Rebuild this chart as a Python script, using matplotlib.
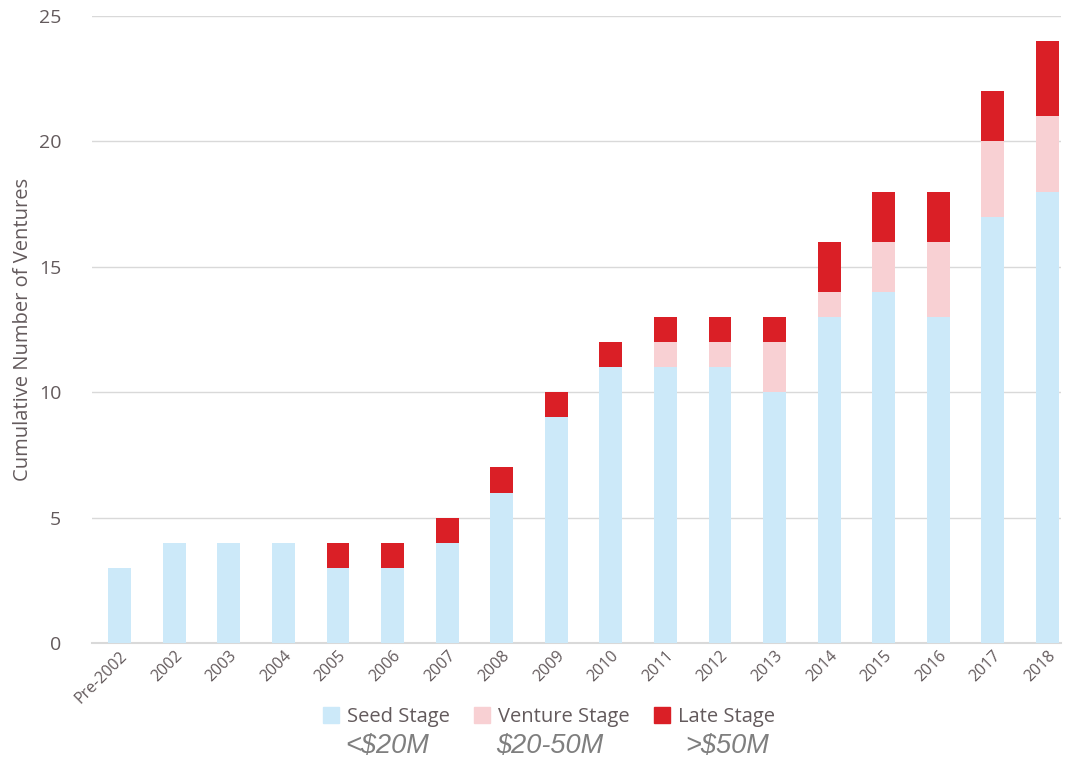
import numpy as np
import matplotlib.pyplot as plt
from matplotlib.patches import Patch

# data
years = ['Pre-2002', '2002', '2003', '2004', '2005', '2006', '2007', '2008', '2009',
         '2010', '2011', '2012', '2013', '2014', '2015', '2016', '2017', '2018']
seed = [3, 4, 4, 4, 3, 3, 4, 6, 9, 11, 11, 11, 10, 13, 14, 13, 17, 18]
venture = [0, 0, 0, 0, 0, 0, 0, 0, 0, 0, 1, 1, 2, 1, 2, 3, 3, 3]
late = [0, 0, 0, 0, 1, 1, 1, 1, 1, 1, 1, 1, 1, 2, 2, 2, 2, 3]

c_seed = '#CCE9F9'
c_venture = '#F8D0D3'
c_late = '#DA1F26'
grey = '#635A5C'

plt.rcParams['font.family'] = ['Open Sans', 'DejaVu Sans']

fig = plt.figure(figsize=(10.68, 7.61), dpi=100)
ax = fig.add_axes([0.086, 0.155, 0.907, 0.824])

x = np.arange(len(years))
w = 0.42
seed = np.array(seed)
venture = np.array(venture)
late = np.array(late)
ax.bar(x, seed, w, color=c_seed, zorder=3)
ax.bar(x, venture, w, bottom=seed, color=c_venture, zorder=3)
ax.bar(x, late, w, bottom=seed + venture, color=c_late, zorder=3)

ax.set_ylim(0, 25)
ax.set_xlim(-0.51, len(years) - 0.76)
ax.set_yticks([0, 5, 10, 15, 20, 25])
ax.yaxis.grid(True, color='#D9D9D9', linewidth=1, zorder=0)
for s in ['top', 'right', 'left']:
    ax.spines[s].set_visible(False)
ax.spines['bottom'].set_color('#D9D9D9')
ax.spines['bottom'].set_linewidth(1.5)
ax.tick_params(axis='both', length=0, colors=grey)
ax.tick_params(axis='y', labelsize=14, pad=22)
ax.set_xticks(x)
ax.set_xticklabels(years, rotation=45, ha='right', rotation_mode='anchor', fontsize=11.5)
ax.set_ylabel('Cumulative Number of Ventures', fontsize=14.5, color=grey, labelpad=4)

handles = [Patch(color=c_seed, label='Seed Stage'),
           Patch(color=c_venture, label='Venture Stage'),
           Patch(color=c_late, label='Late Stage')]
leg = fig.legend(handles=handles, loc='center', bbox_to_anchor=(0.514, 0.058), ncol=3,
                 frameon=False, fontsize=14.5, handlelength=0.8, handleheight=0.8,
                 handletextpad=0.4, columnspacing=1.2)
for t in leg.get_texts():
    t.set_color(grey)

for label, xp in [('<$20M', 387), ('$20-50M', 550), ('>$50M', 727)]:
    fig.text(xp / 1068, 1 - 746 / 761, label, ha='center', va='center', fontsize=19.5,
             style='italic', color='#7F7F7F', family='Liberation Sans')

fig.savefig('out.png', dpi=100)
